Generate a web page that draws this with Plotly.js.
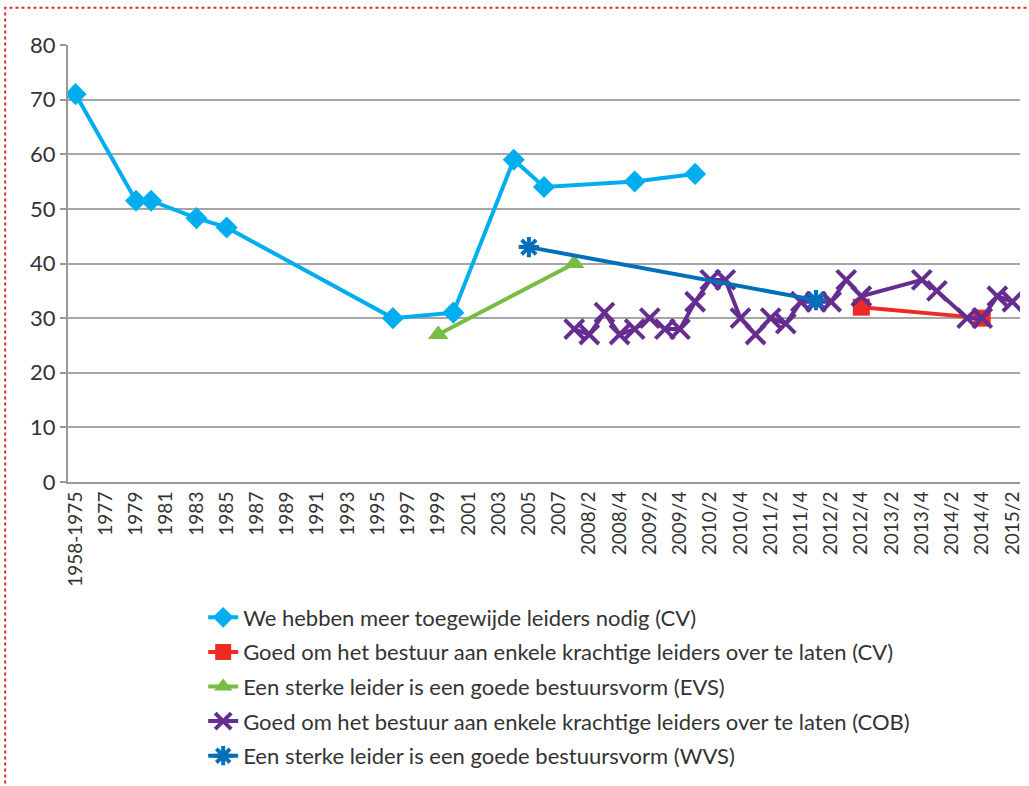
<!DOCTYPE html>
<html>
<head>
<meta charset="utf-8">
<script src="https://cdn.plot.ly/plotly-3.0.1.min.js"></script>
<style>html,body{margin:0;padding:0;background:#fff}#chart{width:1029px;height:786px}</style>
</head>
<body>
<div id="chart"></div>
<script>
// Categories (x axis)
const categories = ["1958-1975"];
for (let y = 1976; y <= 2007; y++) categories.push(String(y));
for (let y = 2008; y <= 2015; y++) for (let q = 1; q <= 4; q++) { if (y === 2015 && q > 2) break; categories.push(y + "/" + q); }

// Tick labels shown (every other category)
const tickLabels = ["1958-1975","1977","1979","1981","1983","1985","1987","1989","1991","1993","1995","1997","1999","2001","2003","2005","2007",
  "2008/2","2008/4","2009/2","2009/4","2010/2","2010/4","2011/2","2011/4","2012/2","2012/4","2013/2","2013/4","2014/2","2014/4","2015/2"];

// Series
const cvMeerX = ["1958-1975","1979","1980","1983","1985","1996","2000","2004","2006","2009/1","2010/1"];
const cvMeerY = [71, 51.5, 51.5, 48.3, 46.6, 30, 31, 59, 54, 55, 56.4];

const cvGoedX = ["2012/4","2014/4"];
const cvGoedY = [32, 30];

const evsX = ["1999","2008/1"];
const evsY = [27, 40];

const cobX = ["2008/1","2008/2","2008/3","2008/4","2009/1","2009/2","2009/3","2009/4","2010/1","2010/2","2010/3","2010/4",
  "2011/1","2011/2","2011/3","2011/4","2012/1","2012/2","2012/3","2012/4","2013/4","2014/1","2014/3","2014/4","2015/1","2015/2"];
const cobY = [28, 27, 31, 27, 28, 30, 28, 28, 33, 37, 37, 30, 27, 30, 29, 33, 33, 33, 37, 34, 37, 35, 30, 30, 34, 33];

const wvsX = ["2005","2012/1"];
const wvsY = [43, 33.3];

const names = [
  "We hebben meer toegewijde leiders nodig (CV)",
  "Goed om het bestuur aan enkele krachtige leiders over te laten (CV)",
  "Een sterke leider is een goede bestuursvorm (EVS)",
  "Goed om het bestuur aan enkele krachtige leiders over te laten (COB)",
  "Een sterke leider is een goede bestuursvorm (WVS)"
];

const traces = [
  {x: cvMeerX, y: cvMeerY, name: names[0], mode: "lines+markers", legendgroup: "a",
   line: {color: "#00AEEF", width: 4}, marker: {symbol: "diamond", size: 17, color: "#00AEEF"}},
  {x: cvGoedX, y: cvGoedY, name: names[1], mode: "lines+markers", legendgroup: "b",
   line: {color: "#EE2A24", width: 4}, marker: {symbol: "square", size: 17, color: "#EE2A24"}},
  {x: evsX, y: evsY, name: names[2], mode: "lines+markers", legendgroup: "c",
   line: {color: "#76BD43", width: 4}, marker: {symbol: "triangle-up", size: 18, color: "#76BD43"}},
  {x: cobX, y: cobY, name: names[3], mode: "lines+markers", legendgroup: "d",
   line: {color: "#662D91", width: 4}, marker: {symbol: "x-thin-open", size: 19, color: "#662D91", line: {color: "#662D91", width: 4}}},
  {x: wvsX, y: wvsY, name: names[4], mode: "lines+markers", legendgroup: "e",
   line: {color: "#0070BA", width: 4}, marker: {symbol: "asterisk-open", size: 17, color: "#0070BA", line: {color: "#0070BA", width: 4}}}
];

const boundaryTicks = [];
for (let i = 0; i <= categories.length; i++) boundaryTicks.push(i - 0.5);

const n = categories.length;
const layout = {
  width: 1029, height: 786,
  margin: {l: 68, r: 9, t: 45, b: 304},
  paper_bgcolor: "#fff", plot_bgcolor: "#fff",
  font: {family: "Lato, sans-serif", color: "#333", size: 20},
  showlegend: true,
  legend: {x: 0.142, xanchor: "left", y: -0.262, yanchor: "top", traceorder: "grouped", tracegroupgap: 3,
           font: {size: 22, color: "#333"}, bgcolor: "rgba(0,0,0,0)"},
  xaxis: {type: "category", categoryorder: "array", categoryarray: categories, range: [-0.5, n - 0.5],
          tickvals: tickLabels, ticktext: tickLabels, tickangle: -90, ticks: "",
          tickfont: {size: 19, color: "#333"}, showgrid: false, showline: true, linecolor: "#999", linewidth: 2,
          zeroline: false, fixedrange: true},
  xaxis2: {overlaying: "x", anchor: "y", side: "bottom", range: [-0.5, n - 0.5], tickvals: boundaryTicks,
           showticklabels: false, ticks: "outside", ticklen: 5, tickcolor: "#999", tickwidth: 2, showgrid: false,
           showline: false, zeroline: false},
  yaxis: {range: [0, 80], dtick: 10, tick0: 0, ticks: "outside", ticklen: 6, tickcolor: "#999", tickwidth: 2,
          showline: true, linecolor: "#999", linewidth: 2, gridcolor: "#a6a6a6", gridwidth: 2, zeroline: false,
          tickfont: {size: 22, color: "#333"}},
  shapes: [
    {type: "path", xref: "paper", yref: "paper",
     path: "M -0.066 -0.69 L -0.066 1.085 L 1.02 1.085",
     line: {color: "#E8262B", width: 2, dash: "dot"}}
  ]
};

Plotly.newPlot("chart", traces, layout, {displayModeBar: false, staticPlot: true});
</script>
</body>
</html>
